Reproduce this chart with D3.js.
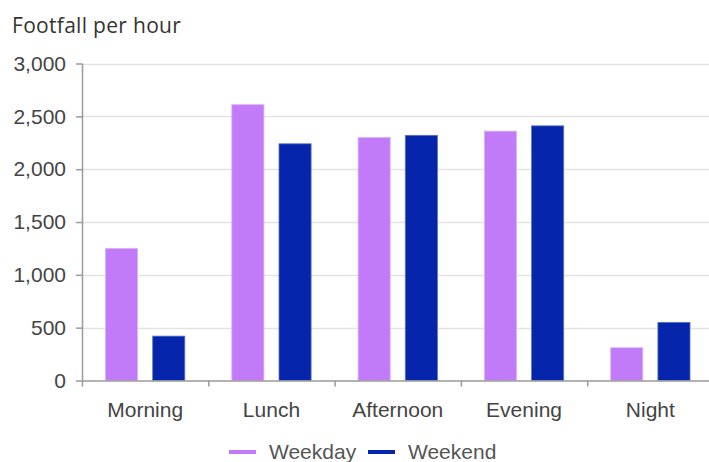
<!DOCTYPE html>
<html>
<head>
<meta charset="utf-8">
<script src="https://cdn.jsdelivr.net/npm/d3@7"></script>
<style>
  html, body { margin: 0; padding: 0; background: #fff; }
  svg { display: block; }
</style>
</head>
<body>
<svg id="chart" width="709" height="462"></svg>
<script>
const categories = ["Morning", "Lunch", "Afternoon", "Evening", "Night"];
const seriesNames = ["Weekday", "Weekend"];
const weekday = [1250, 2610, 2300, 2360, 310];
const weekend = [420, 2240, 2320, 2410, 550];
const yTicks = [0, 500, 1000, 1500, 2000, 2500, 3000];
const colors = ["#c17bf8", "#0525aa"];
const strokeColors = ["#dcb0ff", "#5a6fd0"];
const titleText = "Footfall per hour";

(function () {
const svg = d3.select("#chart");
const W = 709, H = 462;
const mLeft = 82, mRight = 713.5, mTop = 63.5, mBottom = 380.5;

const x = d3.scaleBand().domain(categories).range([mLeft, mRight]).paddingInner(0).paddingOuter(0);
const inner = d3.scaleBand().domain(seriesNames)
  .range([23.5, x.bandwidth() - 23.5]).paddingInner(0.32).paddingOuter(0);
const y = d3.scaleLinear().domain([0, 3000]).range([mBottom, mTop]);

// gridlines
svg.append("g").selectAll("line").data(yTicks.filter(d => d > 0)).join("line")
  .attr("x1", mLeft).attr("x2", W)
  .attr("y1", d => Math.round(y(d)) + 0.5).attr("y2", d => Math.round(y(d)) + 0.5)
  .attr("stroke", "#e3e3e3").attr("stroke-width", 1.5);

// bars
const data = categories.map((c, i) => ({ c, vals: [weekday[i], weekend[i]] }));
const groups = svg.append("g").selectAll("g").data(data).join("g")
  .attr("transform", d => `translate(${x(d.c)},0)`);
groups.selectAll("rect").data(d => d.vals.map((v, j) => ({ v, s: seriesNames[j], j }))).join("rect")
  .attr("x", d => inner(d.s))
  .attr("width", inner.bandwidth())
  .attr("y", d => y(d.v))
  .attr("height", d => y(0) - y(d.v))
  .attr("fill", d => colors[d.j])
  .attr("stroke", d => strokeColors[d.j])
  .attr("stroke-width", 0.8);

// y axis
const yAxis = d3.axisLeft(y).tickValues(yTicks).tickSize(6).tickPadding(10)
  .tickFormat(d3.format(",")).tickSizeOuter(0);
const gy = svg.append("g").attr("transform", `translate(${mLeft},0)`).call(yAxis);
gy.select(".domain").attr("stroke", "#9a9a9a").attr("stroke-width", 1.5)
  .attr("d", `M0.5,${mTop}V${mBottom + 6}`);
gy.selectAll(".tick line").attr("stroke", "#9a9a9a").attr("stroke-width", 1.5);
gy.selectAll(".tick text").attr("fill", "#444").attr("font-size", 21)
  .attr("font-family", "'Liberation Sans', Arial, sans-serif");

// x axis
const xAxis = d3.axisBottom(x).tickSize(0).tickPadding(0).tickSizeOuter(0);
const gx = svg.append("g").attr("transform", `translate(0,${mBottom})`).call(xAxis);
gx.select(".domain").attr("stroke", "#9a9a9a").attr("stroke-width", 1.5)
  .attr("d", `M${mLeft},0.5H${W}`);
gx.selectAll(".tick text").attr("fill", "#444").attr("font-size", 21)
  .attr("font-family", "'Liberation Sans', Arial, sans-serif")
  .attr("dy", 0).attr("y", 36);
// category boundary ticks
gx.append("g").selectAll("line").data(categories.slice(1)).join("line")
  .attr("x1", d => x(d) + 0.5).attr("x2", d => x(d) + 0.5)
  .attr("y1", 0).attr("y2", 6)
  .attr("stroke", "#9a9a9a").attr("stroke-width", 1.5);

// title
svg.append("text").attr("x", 12).attr("y", 33).text(titleText)
  .attr("font-family", "'Open Sans', sans-serif").attr("font-size", 21)
  .attr("letter-spacing", 0.3)
  .attr("fill", "#333");

// legend
const legend = svg.append("g");
const legendItems = [
  { name: seriesNames[0], color: colors[0], x: 229 },
  { name: seriesNames[1], color: colors[1], x: 368 }
];
legendItems.forEach(it => {
  legend.append("line").attr("x1", it.x).attr("x2", it.x + 27)
    .attr("y1", 452).attr("y2", 452)
    .attr("stroke", it.color).attr("stroke-width", 4);
  legend.append("text").attr("x", it.x + 40).attr("y", 459).text(it.name)
    .attr("font-family", "'Liberation Sans', Arial, sans-serif").attr("font-size", 21)
    .attr("fill", "#555");
});
})();
</script>
</body>
</html>
